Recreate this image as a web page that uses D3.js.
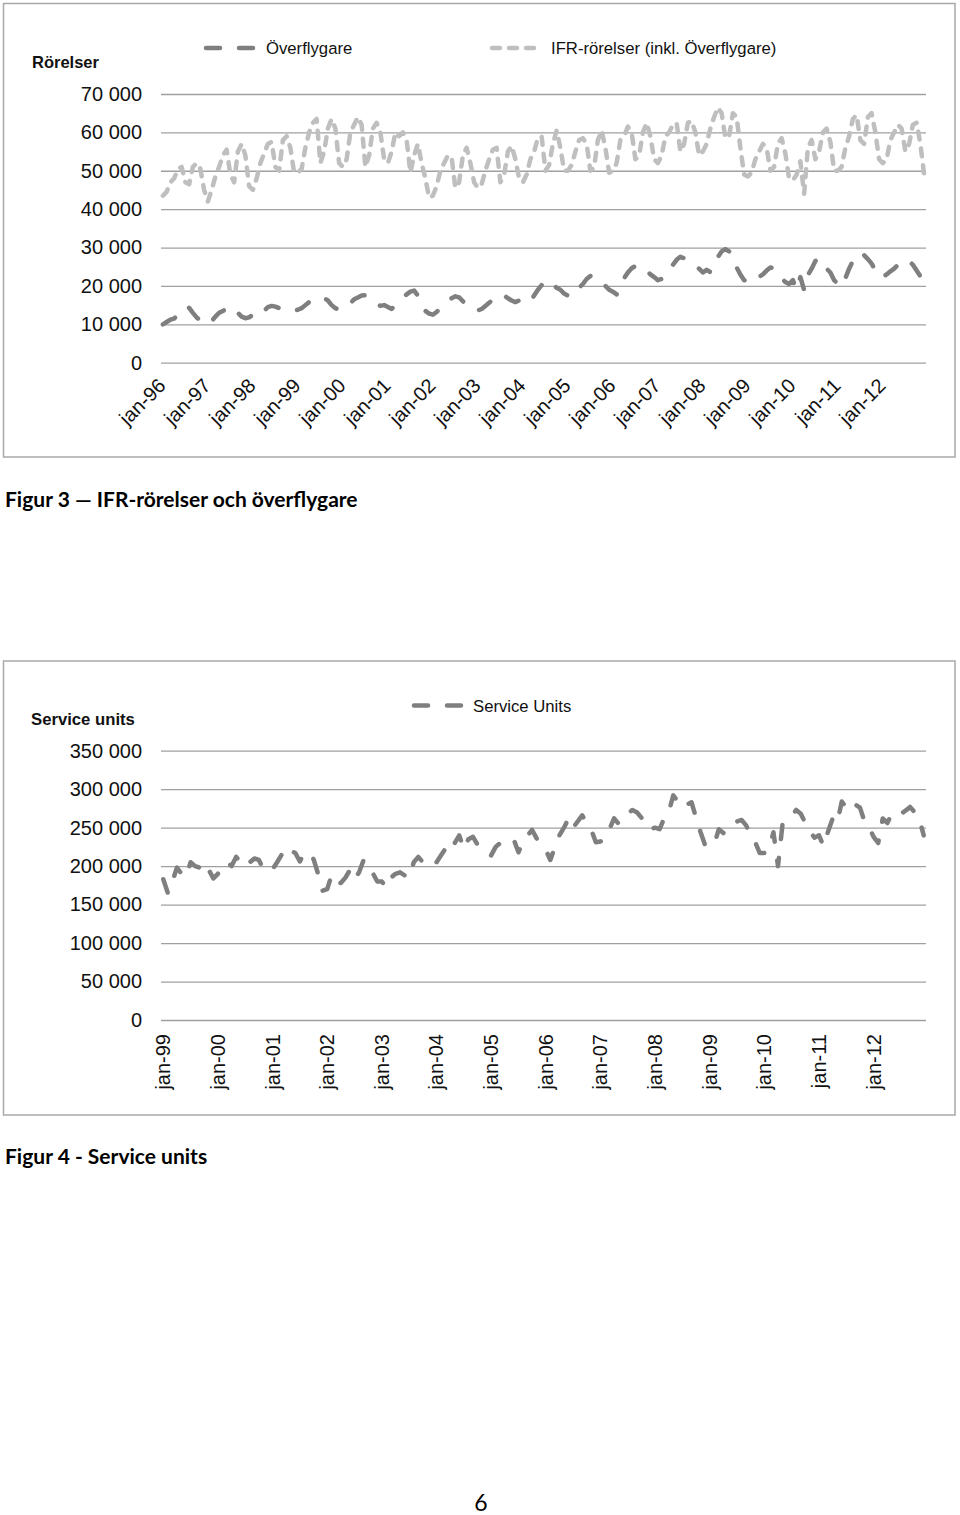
<!DOCTYPE html>
<html>
<head>
<meta charset="utf-8">
<script src="https://cdnjs.cloudflare.com/ajax/libs/d3/7.8.5/d3.min.js"></script>
<style>
  body { margin: 0; background: #fff; }
  svg { display: block; }
</style>
</head>
<body>
<svg width="960" height="1515"></svg>
<script>
// Figur 3: monthly, jan-96 .. dec-12
const tickLabels1 = ["jan-96","jan-97","jan-98","jan-99","jan-00","jan-01","jan-02","jan-03",
  "jan-04","jan-05","jan-06","jan-07","jan-08","jan-09","jan-10","jan-11","jan-12"];

const ifrRorelser = [
  43500, 44500, 47000, 48000, 50500, 51000, 47000, 46500, 51000, 52000, 50500, 45000, // 1996
  42000, 45000, 48500, 51000, 54000, 55500, 49000, 47000, 55000, 57000, 54000, 46000, // 1997
  45000, 48000, 52000, 54500, 57000, 57500, 51000, 50000, 58000, 59000, 56000, 49500, // 1998
  49500, 50500, 56000, 60000, 62500, 63500, 52000, 55000, 61000, 63500, 61000, 52000, // 1999
  51000, 53000, 60000, 62000, 64000, 62000, 51000, 54000, 61000, 62500, 60000, 53000, // 2000
  52000, 55000, 60000, 59000, 60000, 58000, 49500, 54000, 57000, 52000, 48000, 43000, // 2001
  43500, 46000, 50000, 52000, 54000, 53500, 45500, 47000, 54000, 56000, 52000, 47000, // 2002
  45500, 46500, 50000, 53000, 55500, 56000, 47000, 49000, 55000, 56500, 53000, 48000, // 2003
  47000, 49000, 53000, 55000, 58500, 59000, 50000, 51500, 57000, 60500, 56000, 50000, // 2004
  50000, 51500, 55000, 58000, 58500, 57000, 50000, 51000, 58000, 60500, 56000, 49500, // 2005
  50000, 52000, 58000, 59000, 61500, 60000, 53000, 54000, 60000, 62500, 59000, 53000, // 2006
  52000, 54000, 59000, 60000, 62000, 62500, 55000, 57000, 62500, 63000, 60000, 54000, // 2007
  55000, 57000, 61000, 64000, 66500, 65000, 58500, 59000, 65000, 64000, 56000, 49000, // 2008
  48500, 49500, 53000, 55000, 57000, 56000, 50000, 51000, 57000, 58500, 54500, 48000, // 2009
  47500, 49000, 52500, 44000, 56000, 58000, 53000, 55000, 60000, 61000, 57500, 50000, // 2010
  50000, 51000, 56000, 59000, 63500, 64500, 58000, 57000, 64000, 65000, 60000, 53000, // 2011
  52000, 53000, 58000, 60000, 62000, 61000, 55000, 57000, 62000, 62500, 57000, 49000  // 2012
];

const overflygare = [
  10000, 10600, 11200, 11500, 12500, 13800, 14600, 14300, 13000, 11800, 11000, 10400, // 1996
  10000, 10800, 12000, 13000, 13500, 14000, 14600, 14200, 13000, 12000, 11600, 11800, // 1997
  12500, 12000, 12300, 13500, 14500, 14800, 14600, 14200, 14000, 13800, 13600, 13500, // 1998
  13800, 14200, 15000, 15800, 16300, 16800, 17000, 16800, 16200, 15000, 14200, 13800, // 1999
  14000, 14500, 15500, 16500, 17000, 17500, 17600, 17200, 16500, 15500, 14800, 15000, // 2000
  14500, 14000, 15000, 15800, 16800, 17800, 18500, 18800, 17500, 15500, 13500, 12800, // 2001
  12500, 13200, 14200, 15000, 16000, 16800, 17300, 17000, 16000, 15200, 14200, 13800, // 2002
  13600, 14000, 14800, 15600, 16500, 17300, 17800, 17500, 16800, 16200, 15800, 16200, // 2003
  15600, 15400, 16000, 17500, 19000, 20200, 21200, 21500, 20500, 19500, 19000, 18000, // 2004
  17500, 17200, 18000, 19500, 20500, 21800, 22600, 22500, 21500, 20500, 20000, 19000, // 2005
  18500, 17800, 20000, 22000, 23500, 24600, 25200, 25400, 25000, 24000, 23000, 22300, // 2006
  21500, 21800, 23000, 24200, 25500, 26800, 27600, 27200, 26800, 26000, 25000, 24500, // 2007
  23500, 24200, 23600, 25500, 27500, 29000, 29600, 29000, 27000, 24800, 23000, 21500, // 2008
  21200, 22000, 21600, 22400, 23000, 24000, 24800, 24600, 23500, 22000, 21000, 20500, // 2009
  21500, 19000, 22300, 18900, 22800, 24500, 26500, 27200, 26000, 24500, 23500, 21500, // 2010
  20500, 19800, 22000, 24500, 26500, 28000, 28600, 28000, 27000, 25800, 24000, 22500, // 2011
  22300, 23000, 23800, 24500, 25500, 26300, 26800, 26500, 25500, 24000, 22500, 21800  // 2012
];
const yTicks1 = [0, 10000, 20000, 30000, 40000, 50000, 60000, 70000];

// Figur 4: monthly, jan-99 .. dec-12
const tickLabels2 = ["jan-99","jan-00","jan-01","jan-02","jan-03","jan-04","jan-05",
  "jan-06","jan-07","jan-08","jan-09","jan-10","jan-11","jan-12"];

const serviceUnits = [
  183000, 165000, 180000, 198000, 190000, 186000, 205000, 200000, 198000, 205000, 195000, 184000, // 1999
  190000, 200000, 205000, 200000, 212000, 205000, 199000, 205000, 210000, 208000, 196000, 193000, // 2000
  196000, 205000, 215000, 210000, 220000, 217000, 206000, 218000, 216000, 209000, 190000, 168000, // 2001
  170000, 189000, 180000, 178000, 185000, 195000, 183000, 192000, 208000, 198000, 191000, 180000, // 2002
  180000, 172000, 185000, 190000, 192000, 188000, 185000, 205000, 212000, 205000, 200000, 200000, // 2003
  205000, 214000, 223000, 218000, 230000, 240000, 222000, 235000, 238000, 228000, 222000, 216000, // 2004
  214000, 225000, 230000, 228000, 232000, 234000, 218000, 232000, 240000, 247000, 236000, 228000, // 2005
  221000, 208000, 225000, 240000, 250000, 262000, 250000, 258000, 266000, 255000, 247000, 231000, // 2006
  232000, 236000, 248000, 262000, 255000, 260000, 268000, 273000, 270000, 263000, 250000, 248000, // 2007
  250000, 248000, 262000, 270000, 292000, 284000, 276000, 280000, 283000, 263000, 244000, 227000, // 2008
  226000, 228000, 248000, 243000, 253000, 255000, 258000, 260000, 253000, 240000, 231000, 217000, // 2009
  217000, 222000, 244000, 200000, 255000, 260000, 265000, 273000, 268000, 256000, 245000, 237000, // 2010
  240000, 226000, 245000, 262000, 256000, 284000, 276000, 284000, 280000, 276000, 258000, 250000, // 2011
  238000, 230000, 262000, 256000, 268000, 265000, 268000, 272000, 277000, 270000, 262000, 240000  // 2012
];
const yTicks2 = [0, 50000, 100000, 150000, 200000, 250000, 300000, 350000];

const DARK = "#7f7f7f", LIGHT = "#bfbfbf", GRID = "#a0a0a0";
const FONT = "'Liberation Sans', Arial, sans-serif";
const CAPTION_FONT = "Lato, 'Open Sans', sans-serif";
const fmt = d3.formatLocale({decimal: ",", thousands: " ", grouping: [3], currency: ["", ""]}).format(",");

const svg = d3.select("svg").style("font-family", FONT);
svg.append("rect").attr("width", 960).attr("height", 1515).attr("fill", "#fff");

// chart frames
svg.append("rect").attr("x", 3.5).attr("y", 3.5).attr("width", 951.5).attr("height", 453.5)
  .attr("fill", "none").attr("stroke", "#a8a8a8").attr("stroke-width", 1.5);
svg.append("rect").attr("x", 3.5).attr("y", 661).attr("width", 951.5).attr("height", 454)
  .attr("fill", "none").attr("stroke", "#a8a8a8").attr("stroke-width", 1.5);

function drawChart(opt) {
  const x = d3.scaleBand().domain(d3.range(opt.n)).range([161, 926]);
  const y = d3.scaleLinear().domain(opt.yDomain).range(opt.yRange);
  const px = i => x(i) + x.bandwidth() / 2;

  // horizontal gridlines + value labels
  const ya = svg.append("g").attr("transform", "translate(161,0)")
    .call(d3.axisLeft(y).tickValues(opt.yTicks).tickFormat(fmt).tickSize(-765).tickPadding(19));
  ya.select(".domain").remove();
  ya.selectAll("line").attr("stroke", GRID).attr("stroke-width", 1.3);
  ya.selectAll("text").attr("fill", "#111").style("font-size", "20px").style("font-family", FONT);

  // category labels, one per january
  const xa = svg.append("g").attr("transform", `translate(0,${opt.labelY})`)
    .call(d3.axisBottom(x).tickValues(d3.range(0, opt.n, 12))
      .tickFormat((d, i) => opt.tickLabels[i]).tickSize(0));
  xa.select(".domain").remove();
  xa.selectAll("text")
    .attr("x", 0).attr("y", 0).attr("dy", 0)
    .attr("text-anchor", "end")
    .attr("transform", opt.labelTransform)
    .attr("fill", "#111").style("font-size", "20px").style("font-family", FONT);

  opt.series.forEach(s => {
    const line = d3.line().x((d, i) => px(i)).y(d => y(d));
    svg.append("path").datum(s.values)
      .attr("d", line)
      .attr("fill", "none")
      .attr("stroke", s.color)
      .attr("stroke-width", 4.5)
      .attr("stroke-linecap", "round")
      .attr("stroke-linejoin", "round")
      .attr("stroke-dasharray", s.dash);
  });
}

drawChart({
  n: ifrRorelser.length, yDomain: [0, 70000], yRange: [362.7, 94], yTicks: yTicks1,
  labelY: 387, labelTransform: "translate(4,0) rotate(-45)", tickLabels: tickLabels1,
  series: [
    {values: ifrRorelser, color: LIGHT, dash: "8,9"},
    {values: overflygare, color: DARK, dash: "14,19"}
  ]
});

drawChart({
  n: serviceUnits.length, yDomain: [0, 350000], yRange: [1020, 750.7], yTicks: yTicks2,
  labelY: 1034, labelTransform: "translate(7,0) rotate(-90)", tickLabels: tickLabels2,
  series: [{values: serviceUnits, color: DARK, dash: "14,19"}]
});

// legends and axis titles
function legendItem(x1, x2, yv, color, dash, label, tx) {
  svg.append("line").attr("x1", x1).attr("x2", x2).attr("y1", yv).attr("y2", yv)
    .attr("stroke", color).attr("stroke-width", 4.5).attr("stroke-linecap", "round")
    .attr("stroke-dasharray", dash);
  svg.append("text").attr("x", tx).attr("y", yv + 6).text(label)
    .style("font-size", "16.7px").attr("fill", "#111");
}
legendItem(206, 253, 48, DARK, "14,19", "Överflygare", 266);
legendItem(492, 534, 48, LIGHT, "8,9", "IFR-rörelser (inkl. Överflygare)", 551);
legendItem(414, 461, 705.5, DARK, "14,19", "Service Units", 473);

svg.append("text").attr("x", 32).attr("y", 68).text("Rörelser")
  .style("font-size", "16.5px").style("font-weight", "bold").attr("fill", "#111");
svg.append("text").attr("x", 31).attr("y", 725).text("Service units")
  .style("font-size", "16.7px").style("font-weight", "bold").attr("fill", "#111");

// captions
svg.append("text").attr("x", 5).attr("y", 507).text("Figur 3 \u2014 IFR-rörelser och överflygare")
  .style("font-family", CAPTION_FONT).style("font-size", "21px")
  .style("font-weight", "bold").attr("fill", "#000");
svg.append("text").attr("x", 5).attr("y", 1164).text("Figur 4 - Service units")
  .style("font-family", CAPTION_FONT).style("font-size", "21px")
  .style("font-weight", "bold").attr("fill", "#000");
svg.append("text").attr("x", 481).attr("y", 1511).attr("text-anchor", "middle").text("6")
  .style("font-family", CAPTION_FONT).style("font-size", "23px").attr("fill", "#000");
</script>
</body>
</html>
